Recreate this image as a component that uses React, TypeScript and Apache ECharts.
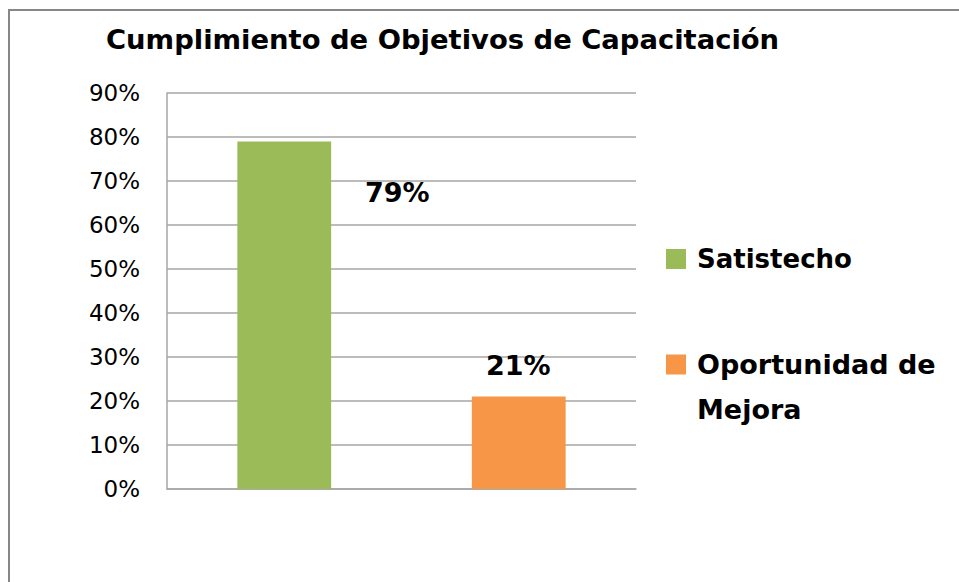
import React, { useEffect, useRef } from "react";
import * as echarts from "echarts";

const categories = ["Satistecho", "Oportunidad de Mejora"];
const seriesNames = ["Satistecho", "Oportunidad de Mejora"];
const satisfechoValues: (number | string)[] = [79, "-"];
const oportunidadValues: (number | string)[] = ["-", 21];
const colors = ["#9BBB59", "#F79646"];
const titleText = "Cumplimiento de Objetivos de Capacitación";

const FONT = "'DejaVu Sans', sans-serif";

export default function App() {
  const ref = useRef<HTMLDivElement>(null);
  useEffect(() => {
    if (!ref.current) return;
    const chart = echarts.init(ref.current, null, { renderer: "svg" });
    chart.setOption({
      animation: false,
      backgroundColor: "#ffffff",
      title: {
        text: titleText,
        left: 106,
        top: 26,
        padding: 0,
        textStyle: { fontFamily: FONT, fontSize: 27.4, fontWeight: "bold", color: "#000" },
      },
      graphic: [
        {
          type: "rect",
          shape: { x: 9, y: 10, width: 1200, height: 1000 },
          style: { fill: "none", stroke: "#878787", lineWidth: 2 },
          silent: true,
        },
      ],
      legend: [
        {
          data: [seriesNames[0]],
          orient: "vertical",
          left: 666,
          top: 246,
          padding: 0,
          itemWidth: 20,
          itemHeight: 20,
          icon: "rect",
          textStyle: {
            fontFamily: FONT,
            fontSize: 26,
            fontWeight: "bold",
            color: "#000",
            padding: [0, 0, 0, 6],
          },
        },
        {
          data: [seriesNames[1]],
          orient: "vertical",
          left: 666,
          top: 297,
          padding: 0,
          itemWidth: 20,
          itemHeight: 20,
          icon: "rect",
          formatter: () => "\u00a0\nOportunidad de\nMejora",
          textStyle: {
            fontFamily: FONT,
            fontSize: 27,
            fontWeight: "bold",
            color: "#000",
            lineHeight: 45,
            padding: [0, 0, 0, 6],
          },
        },
      ],
      grid: { left: 167, right: 323, top: 93, bottom: 93, containLabel: false },
      xAxis: {
        type: "category",
        data: categories,
        axisLine: { show: true, lineStyle: { color: "#a6a6a6", width: 1.5 } },
        axisTick: { show: false },
        axisLabel: { show: false },
      },
      yAxis: {
        type: "value",
        min: 0,
        max: 90,
        interval: 10,
        axisLine: { show: true, lineStyle: { color: "#a6a6a6", width: 1.5 } },
        axisTick: { show: false },
        splitLine: { lineStyle: { color: "#a6a6a6", width: 1.5 } },
        axisLabel: {
          formatter: "{value}%",
          fontFamily: FONT,
          fontSize: 23,
          color: "#000",
          margin: 27,
        },
      },
      series: [
        {
          name: seriesNames[0],
          type: "bar",
          stack: "total",
          barWidth: "40%",
          data: satisfechoValues,
          itemStyle: { color: colors[0] },
          label: {
            show: true,
            position: [160, 51],
            align: "center",
            verticalAlign: "middle",
            formatter: "{c}%",
            fontFamily: FONT,
            fontSize: 27,
            fontWeight: "bold",
            color: "#000",
          },
        },
        {
          name: seriesNames[1],
          type: "bar",
          stack: "total",
          barWidth: "40%",
          data: oportunidadValues,
          itemStyle: { color: colors[1] },
          label: {
            show: true,
            position: [46.5, -31],
            align: "center",
            verticalAlign: "middle",
            formatter: "{c}%",
            fontFamily: FONT,
            fontSize: 27,
            fontWeight: "bold",
            color: "#000",
          },
        },
      ],
    });
    return () => chart.dispose();
  }, []);
  return (
    <div
      ref={ref}
      style={{ position: "fixed", left: 0, top: 0, width: 959, height: 582 }}
    />
  );
}
